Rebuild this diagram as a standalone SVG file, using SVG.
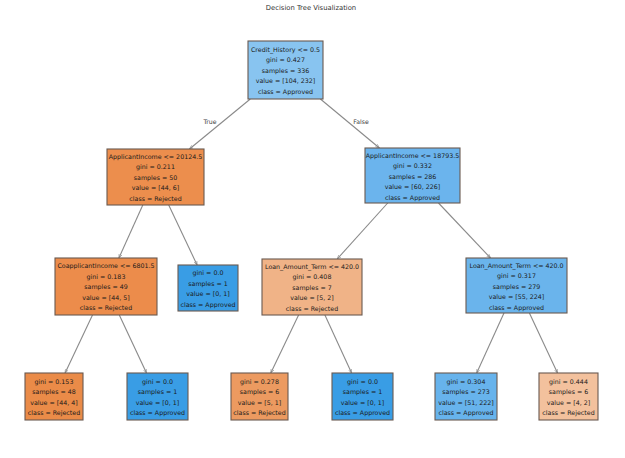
<svg xmlns="http://www.w3.org/2000/svg" width="625" height="458" viewBox="0 0 625 458">
<style>
text{font-family:"DejaVu Sans","Liberation Sans",sans-serif;fill:#1a1a1a;text-anchor:middle;dominant-baseline:central}
.t{font-size:6.3px}
.title{font-size:6.8px;fill:#333}
.el{font-size:6.2px;fill:#444}
.box{stroke:#6a5a50;stroke-width:1.1}
.edges line{stroke:#8a8a8a;stroke-width:1.1;marker-end:url(#ah)}
</style>
<defs>
<marker id="ah" viewBox="0 0 10 10" refX="10" refY="5" markerWidth="4" markerHeight="4" markerUnits="userSpaceOnUse" orient="auto">
<path d="M0,1 L10,5 L0,9" fill="none" stroke="#8a8a8a" stroke-width="1.5"/>
</marker>
</defs>
<rect width="625" height="458" fill="#ffffff"/>
<text class="title" x="311" y="8">Decision Tree Visualization</text>
<g class="edges" id="connectors">
<line x1="250.3" y1="99" x2="189.5" y2="149"/>
<line x1="320.4" y1="99" x2="379.4" y2="148"/>
<line x1="142.8" y1="205" x2="118.9" y2="258"/>
<line x1="168.7" y1="205" x2="197.1" y2="265"/>
<line x1="387.7" y1="203" x2="337.2" y2="259"/>
<line x1="438.5" y1="203" x2="490.5" y2="258"/>
<line x1="92.5" y1="315" x2="65.1" y2="373"/>
<line x1="119.3" y1="315" x2="146.5" y2="373"/>
<line x1="298.6" y1="315" x2="270.8" y2="373"/>
<line x1="324.9" y1="315" x2="351.6" y2="373"/>
<line x1="504" y1="313" x2="476.7" y2="373"/>
<line x1="529.4" y1="313" x2="557.5" y2="373"/>
<text class="el" x="210" y="121">True</text>
<text class="el" x="361" y="121">False</text>
</g>
<g id="root">
<rect class="box" x="248" y="41" width="75" height="58" fill="#88c4f0"/>
<text class="t" x="285.5" y="49">Credit_History &lt;= 0.5</text>
<text class="t" x="285.5" y="59.5">gini = 0.427</text>
<text class="t" x="285.5" y="70">samples = 336</text>
<text class="t" x="285.5" y="80.5">value = [104, 232]</text>
<text class="t" x="285.5" y="91">class = Approved</text>
</g>
<g id="n1">
<rect class="box" x="107" y="149" width="97" height="56" fill="#ec8e4d"/>
<text class="t" x="155.5" y="156">ApplicantIncome &lt;= 20124.5</text>
<text class="t" x="155.5" y="166.5">gini = 0.211</text>
<text class="t" x="155.5" y="177">samples = 50</text>
<text class="t" x="155.5" y="187.5">value = [44, 6]</text>
<text class="t" x="155.5" y="198">class = Rejected</text>
</g>
<g id="n2">
<rect class="box" x="365" y="148" width="95" height="55" fill="#6bb4ed"/>
<text class="t" x="412.5" y="155">ApplicantIncome &lt;= 18793.5</text>
<text class="t" x="412.5" y="165.5">gini = 0.332</text>
<text class="t" x="412.5" y="176">samples = 286</text>
<text class="t" x="412.5" y="186.5">value = [60, 226]</text>
<text class="t" x="412.5" y="197">class = Approved</text>
</g>
<g id="n3">
<rect class="box" x="55" y="258" width="102" height="57" fill="#ec8c4b"/>
<text class="t" x="106" y="265.5">CoapplicantIncome &lt;= 6801.5</text>
<text class="t" x="106" y="276">gini = 0.183</text>
<text class="t" x="106" y="286.5">samples = 49</text>
<text class="t" x="106" y="297">value = [44, 5]</text>
<text class="t" x="106" y="307.5">class = Rejected</text>
</g>
<g id="n4">
<rect class="box" x="178" y="265" width="60" height="46" fill="#399de5"/>
<text class="t" x="208" y="272.5">gini = 0.0</text>
<text class="t" x="208" y="283">samples = 1</text>
<text class="t" x="208" y="293.5">value = [0, 1]</text>
<text class="t" x="208" y="304">class = Approved</text>
</g>
<g id="n5">
<rect class="box" x="262" y="259" width="100" height="56" fill="#f0b387"/>
<text class="t" x="312" y="266">Loan_Amount_Term &lt;= 420.0</text>
<text class="t" x="312" y="276.5">gini = 0.408</text>
<text class="t" x="312" y="287">samples = 7</text>
<text class="t" x="312" y="297.5">value = [5, 2]</text>
<text class="t" x="312" y="308">class = Rejected</text>
</g>
<g id="n6">
<rect class="box" x="466" y="258" width="101" height="55" fill="#6ab4ec"/>
<text class="t" x="516.5" y="265">Loan_Amount_Term &lt;= 420.0</text>
<text class="t" x="516.5" y="275.5">gini = 0.317</text>
<text class="t" x="516.5" y="286">samples = 279</text>
<text class="t" x="516.5" y="296.5">value = [55, 224]</text>
<text class="t" x="516.5" y="307">class = Approved</text>
</g>
<g id="n7">
<rect class="box" x="25" y="373" width="58" height="47" fill="#ea8b48"/>
<text class="t" x="54" y="381">gini = 0.153</text>
<text class="t" x="54" y="391.5">samples = 48</text>
<text class="t" x="54" y="402">value = [44, 4]</text>
<text class="t" x="54" y="412.5">class = Rejected</text>
</g>
<g id="n8">
<rect class="box" x="127" y="373" width="61" height="47" fill="#399de5"/>
<text class="t" x="157.5" y="381">gini = 0.0</text>
<text class="t" x="157.5" y="391.5">samples = 1</text>
<text class="t" x="157.5" y="402">value = [0, 1]</text>
<text class="t" x="157.5" y="412.5">class = Approved</text>
</g>
<g id="n9">
<rect class="box" x="231" y="373" width="57" height="47" fill="#ec9a60"/>
<text class="t" x="259.5" y="381">gini = 0.278</text>
<text class="t" x="259.5" y="391.5">samples = 6</text>
<text class="t" x="259.5" y="402">value = [5, 1]</text>
<text class="t" x="259.5" y="412.5">class = Rejected</text>
</g>
<g id="n10">
<rect class="box" x="332" y="373" width="61" height="47" fill="#399de5"/>
<text class="t" x="362.5" y="381">gini = 0.0</text>
<text class="t" x="362.5" y="391.5">samples = 1</text>
<text class="t" x="362.5" y="402">value = [0, 1]</text>
<text class="t" x="362.5" y="412.5">class = Approved</text>
</g>
<g id="n11">
<rect class="box" x="435" y="373" width="62" height="47" fill="#67b3ec"/>
<text class="t" x="466" y="381">gini = 0.304</text>
<text class="t" x="466" y="391.5">samples = 273</text>
<text class="t" x="466" y="402">value = [51, 222]</text>
<text class="t" x="466" y="412.5">class = Approved</text>
</g>
<g id="n12">
<rect class="box" x="539" y="373" width="59" height="47" fill="#f3c19d"/>
<text class="t" x="568.5" y="381">gini = 0.444</text>
<text class="t" x="568.5" y="391.5">samples = 6</text>
<text class="t" x="568.5" y="402">value = [4, 2]</text>
<text class="t" x="568.5" y="412.5">class = Rejected</text>
</g>
</svg>
